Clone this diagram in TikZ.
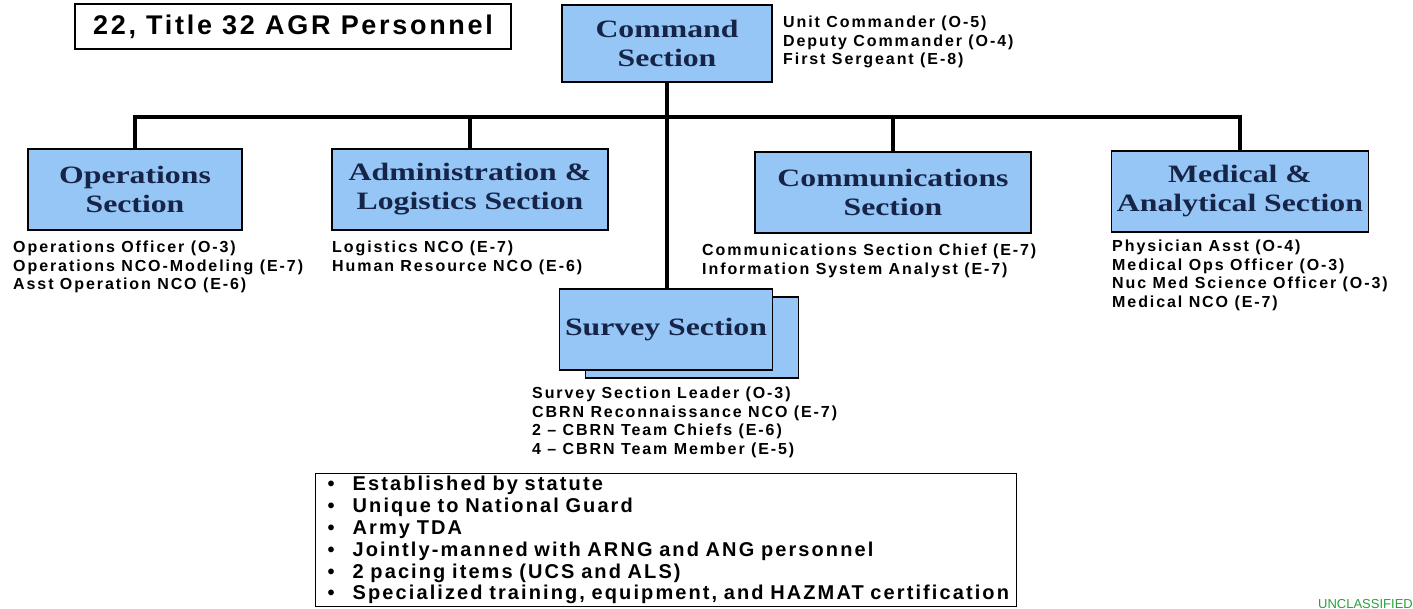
\documentclass[tikz,border=0pt]{standalone}
\usepackage{fontspec}
\usepackage{tikz}

\setmainfont{Liberation Sans}
\newfontfamily\boxserif[FakeStretch=1.27]{Liberation Serif}
\newfontfamily\rolesans[LetterSpace=12]{Liberation Sans}
\newfontfamily\factsans[LetterSpace=10.5]{Liberation Sans}
\newfontfamily\titlesans[LetterSpace=10]{Liberation Sans}

\definecolor{boxblue}{RGB}{150,198,245}
\definecolor{boxnavy}{RGB}{22,36,72}
\definecolor{unclassgreen}{RGB}{40,160,60}

\newcommand{\factbullet}{\makebox[25pt][l]{\textbullet}}

\tikzset{
  secbox/.style={draw=black, line width=1.8pt, fill=boxblue, text=boxnavy, inner sep=0pt,
    align=center, minimum height=81pt, font=\boxserif\bfseries\fontsize{25}{29}\selectfont},
  roles/.style={anchor=north west, inner sep=0pt, align=left,
    font=\rolesans\bfseries\fontsize{16}{18.5}\selectfont},
  link/.style={line width=3.4pt, line join=miter}
}

\begin{document}
\begin{tikzpicture}[x=1pt, y=-1pt]
        \useasboundingbox (0,0) rectangle (1413,609);

        % --- Tieu de ---
        \node[draw, line width=1.4pt, minimum width=436pt, minimum height=45pt, inner sep=0pt,
              font=\titlesans\bfseries\fontsize{27}{30}\selectfont] (title) at (293,26.5) {22, Title 32 AGR Personnel};

        % --- Command Section ---
        \node[secbox, minimum width=210pt, minimum height=77pt] (cmd) at (667,43.5) {Command\\Section};
        \node[roles] (cmdroles) at (783,16) {Unit Commander (O-5)\\Deputy Commander (O-4)\\First Sergeant (E-8)};

        % --- Cac section hang duoi ---
        \node[secbox, minimum width=214pt] (ops) at (135,189.5) {Operations\\Section};
        \node[secbox, minimum width=276pt] (adm) at (470,189.5) {Administration \&\\Logistics Section};
        \node[secbox, minimum width=276pt] (com) at (893,192.5) {Communications\\Section};
        \node[secbox, minimum width=257pt] (med) at (1240,191.5) {Medical \&\\Analytical Section};

        % --- Survey Section (hai lop) ---
        \coordinate (srvpos) at (666,329.5);
        \node[secbox, minimum width=213pt, xshift=26pt, yshift=-8pt] (srvback) at (srvpos) {};
        \node[secbox, minimum width=213pt] (srv) at (srvpos) {Survey Section};

        % --- Danh sach nhan su ---
        \node[roles] (opsroles) at (13,241) {Operations Officer (O-3)\\Operations NCO-Modeling (E-7)\\Asst Operation NCO (E-6)};
        \node[roles] (admroles) at (332,241) {Logistics NCO (E-7)\\Human Resource NCO (E-6)};
        \node[roles] (comroles) at (702,244) {Communications Section Chief (E-7)\\Information System Analyst (E-7)};
        \node[roles] (medroles) at (1112,240) {Physician Asst (O-4)\\Medical Ops Officer (O-3)\\Nuc Med Science Officer (O-3)\\Medical NCO (E-7)};
        \node[roles] (srvroles) at (532,387) {Survey Section Leader (O-3)\\CBRN Reconnaissance NCO (E-7)\\2 – CBRN Team Chiefs (E-6)\\4 – CBRN Team Member (E-5)};

        % --- Duong noi ---
        \coordinate (bar) at (0,117);
        \draw[link] (ops.north) -- (ops.north |- bar) -- (med.north |- bar) -- (med.north);
        \draw[link] (adm.north) -- (adm.north |- bar);
        \draw[link] (com.north) -- (com.north |- bar);
        \draw[link] (cmd.south) -- (cmd.south |- srv.north);

        % --- Khung dac diem ---
        \node[draw, line width=1.4pt, anchor=north west, text width=677pt, inner xsep=12pt, inner ysep=0pt,
              minimum height=133pt, align=left, font=\factsans\bfseries\fontsize{20}{21.8}\selectfont] (facts) at (315,473)
             {\factbullet Established by statute\\
              \factbullet Unique to National Guard\\
              \factbullet Army TDA\\
              \factbullet Jointly-manned with ARNG and ANG personnel\\
              \factbullet 2 pacing items (UCS and ALS)\\
              \factbullet Specialized training, equipment, and HAZMAT certification};

        \node[anchor=south east, inner sep=0pt, text=unclassgreen, font=\fontsize{13}{13}\selectfont] (unclass) at (1413,609) {UNCLASSIFIED};
\end{tikzpicture}
\end{document}
